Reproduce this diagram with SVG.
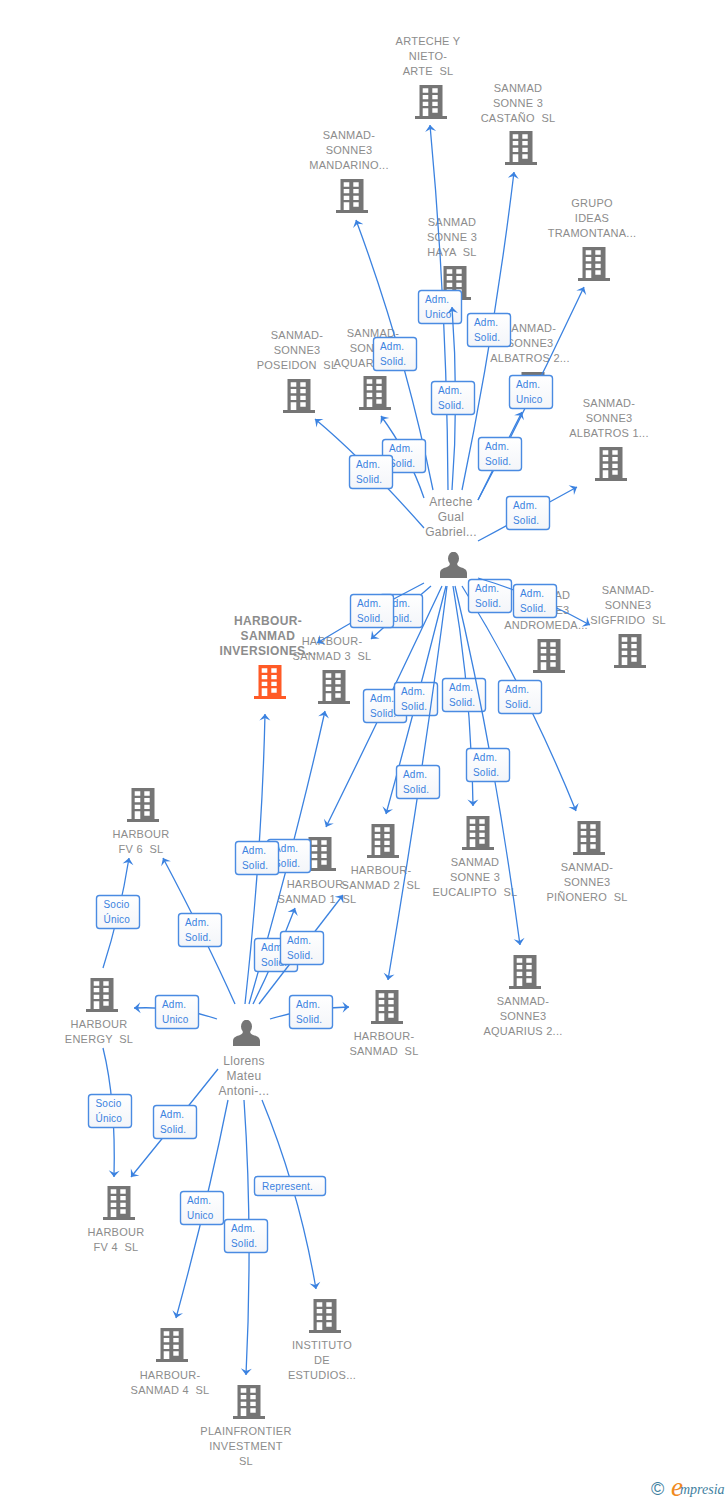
<svg xmlns="http://www.w3.org/2000/svg" width="728" height="1500" viewBox="0 0 728 1500">
<style>
text{font-family:"Liberation Sans",Arial,sans-serif;white-space:pre}
.l{font-size:11px;fill:#8c8c8c;text-anchor:middle;letter-spacing:.25px}
.p{font-size:12px;fill:#8c8c8c;text-anchor:middle;letter-spacing:.3px}
.o{font-size:12px;font-weight:bold;fill:#8c8c8c;text-anchor:middle;letter-spacing:.35px}
.c{fill:none;stroke:#3b82e0;stroke-width:1.3;marker-end:url(#a)}
.r{fill:url(#g);stroke:#4a8be2;stroke-width:1.4}
.t{font-size:10px;fill:#3b82e0;letter-spacing:.2px}
</style>
<defs>
<linearGradient id="g" x1="0" y1="0" x2="0" y2="1"><stop offset="0" stop-color="#fff"/><stop offset="1" stop-color="#f3f5f9"/></linearGradient>
<marker id="a" markerUnits="userSpaceOnUse" markerWidth="14" markerHeight="14" refX="10" refY="6" orient="auto"><path d="M10,6 L3.500,.5 L6,6 L3.500,11.500Z" fill="#3b82e0"/></marker>
<symbol id="b" width="33" height="35" viewBox="0 0 33 35"><path fill-rule="evenodd" d="M4.5,0H27.5V31H32V34H0V31H4.5ZM7.7,3.3V7.7H13.3V3.3ZM17.3,3.3V7.7H22.7V3.3ZM7.7,10V14.3H13.3V10ZM17.3,10V14.3H22.7V10ZM7.7,16.7V21H13.3V16.7ZM17.3,16.7V21H22.7V16.7ZM7.7,23.3V31H13.3V23.3ZM17.3,23.3V27.7H22.7V23.3Z"/></symbol>
<symbol id="u" width="27" height="27" viewBox="0 0 27 27"><ellipse cx="13.5" cy="6.5" rx="5.5" ry="6.8"/><path d="M0,26V21C0,17 4,16 7,15C9,14 10,13 10,11H17C17,13 18,14 20,15C23,16 27,17 27,21V26Z"/></symbol>
</defs>
<g id="nodes">
<g id="arteche-nieto" fill="#757575"><use href="#b" x="415" y="85"/><text class="l"><tspan x="428" y="45">ARTECHE Y</tspan><tspan x="428" y="60">NIETO-</tspan><tspan x="428" y="75">ARTE  SL</tspan></text></g>
<g id="castano" fill="#757575"><use href="#b" x="505" y="131"/><text class="l"><tspan x="518" y="92">SANMAD</tspan><tspan x="518" y="107">SONNE 3</tspan><tspan x="518" y="122">CASTAÑO  SL</tspan></text></g>
<g id="mandarino" fill="#757575"><use href="#b" x="336" y="179"/><text class="l"><tspan x="349" y="139">SANMAD-</tspan><tspan x="349" y="154">SONNE3</tspan><tspan x="349" y="169">MANDARINO...</tspan></text></g>
<g id="haya" fill="#757575"><use href="#b" x="439" y="266"/><text class="l"><tspan x="452" y="226">SANMAD</tspan><tspan x="452" y="241">SONNE 3</tspan><tspan x="452" y="256">HAYA  SL</tspan></text></g>
<g id="tramontana" fill="#757575"><use href="#b" x="578" y="247"/><text class="l"><tspan x="592" y="207">GRUPO</tspan><tspan x="592" y="222">IDEAS</tspan><tspan x="592" y="237">TRAMONTANA...</tspan></text></g>
<g id="poseidon" fill="#757575"><use href="#b" x="283" y="379"/><text class="l"><tspan x="297" y="339">SANMAD-</tspan><tspan x="297" y="354">SONNE3</tspan><tspan x="297" y="369">POSEIDON  SL</tspan></text></g>
<g id="aquarius1" fill="#757575"><use href="#b" x="359" y="376"/><text class="l"><tspan x="373" y="337">SANMAD-</tspan><tspan x="373" y="352">SONNE3</tspan><tspan x="373" y="367">AQUARIUS 1...</tspan></text></g>
<g id="albatros2" fill="#757575"><use href="#b" x="517" y="372"/><text class="l"><tspan x="530" y="332">SANMAD-</tspan><tspan x="530" y="347">SONNE3</tspan><tspan x="530" y="362">ALBATROS 2...</tspan></text></g>
<g id="albatros1" fill="#757575"><use href="#b" x="595" y="447"/><text class="l"><tspan x="609" y="407">SANMAD-</tspan><tspan x="609" y="422">SONNE3</tspan><tspan x="609" y="437">ALBATROS 1...</tspan></text></g>
<g id="arteche-gual" fill="#757575"><use href="#u" x="440" y="552"/><text class="p"><tspan x="451" y="506">Arteche</tspan><tspan x="451" y="521">Gual</tspan><tspan x="451" y="536">Gabriel...</tspan></text></g>
<g id="andromeda" fill="#757575"><use href="#b" x="533" y="639"/><text class="l"><tspan x="546" y="599">SANMAD</tspan><tspan x="546" y="614">SONNE3</tspan><tspan x="546" y="629">ANDROMEDA...</tspan></text></g>
<g id="sigfrido" fill="#757575"><use href="#b" x="614" y="634"/><text class="l"><tspan x="628" y="594">SANMAD-</tspan><tspan x="628" y="609">SONNE3</tspan><tspan x="628" y="624">SIGFRIDO  SL</tspan></text></g>
<g id="inversiones" fill="#ff5a26"><use href="#b" x="254" y="665"/><text class="o"><tspan x="268" y="625">HARBOUR-</tspan><tspan x="268" y="640">SANMAD</tspan><tspan x="268" y="655">INVERSIONES...</tspan></text></g>
<g id="sanmad3" fill="#757575"><use href="#b" x="318" y="670"/><text class="l"><tspan x="332" y="645">HARBOUR-</tspan><tspan x="332" y="660">SANMAD 3  SL</tspan></text></g>
<g id="sanmad1" fill="#757575"><use href="#b" x="304" y="837"/><text class="l"><tspan x="317" y="888">HARBOUR-</tspan><tspan x="317" y="903">SANMAD 1  SL</tspan></text></g>
<g id="sanmad2" fill="#757575"><use href="#b" x="367" y="824"/><text class="l"><tspan x="381" y="874">HARBOUR-</tspan><tspan x="381" y="889">SANMAD 2  SL</tspan></text></g>
<g id="eucalipto" fill="#757575"><use href="#b" x="462" y="816"/><text class="l"><tspan x="475" y="866">SANMAD</tspan><tspan x="475" y="881">SONNE 3</tspan><tspan x="475" y="896">EUCALIPTO  SL</tspan></text></g>
<g id="pinonero" fill="#757575"><use href="#b" x="573" y="821"/><text class="l"><tspan x="587" y="871">SANMAD-</tspan><tspan x="587" y="886">SONNE3</tspan><tspan x="587" y="901">PIÑONERO  SL</tspan></text></g>
<g id="aquarius2" fill="#757575"><use href="#b" x="509" y="955"/><text class="l"><tspan x="523" y="1005">SANMAD-</tspan><tspan x="523" y="1020">SONNE3</tspan><tspan x="523" y="1035">AQUARIUS 2...</tspan></text></g>
<g id="harbour-sanmad" fill="#757575"><use href="#b" x="371" y="990"/><text class="l"><tspan x="384" y="1040">HARBOUR-</tspan><tspan x="384" y="1055">SANMAD  SL</tspan></text></g>
<g id="fv6" fill="#757575"><use href="#b" x="127" y="788"/><text class="l"><tspan x="141" y="838">HARBOUR</tspan><tspan x="141" y="853">FV 6  SL</tspan></text></g>
<g id="energy" fill="#757575"><use href="#b" x="86" y="978"/><text class="l"><tspan x="99" y="1028">HARBOUR</tspan><tspan x="99" y="1043">ENERGY  SL</tspan></text></g>
<g id="llorens" fill="#757575"><use href="#u" x="233" y="1020"/><text class="p"><tspan x="244" y="1065">Llorens</tspan><tspan x="244" y="1080">Mateu</tspan><tspan x="244" y="1095">Antoni-...</tspan></text></g>
<g id="fv4" fill="#757575"><use href="#b" x="103" y="1186"/><text class="l"><tspan x="116" y="1236">HARBOUR</tspan><tspan x="116" y="1251">FV 4  SL</tspan></text></g>
<g id="sanmad4" fill="#757575"><use href="#b" x="156" y="1328"/><text class="l"><tspan x="170" y="1379">HARBOUR-</tspan><tspan x="170" y="1394">SANMAD 4  SL</tspan></text></g>
<g id="plainfrontier" fill="#757575"><use href="#b" x="233" y="1385"/><text class="l"><tspan x="246" y="1435">PLAINFRONTIER</tspan><tspan x="246" y="1450">INVESTMENT</tspan><tspan x="246" y="1465">SL</tspan></text></g>
<g id="instituto" fill="#757575"><use href="#b" x="309" y="1299"/><text class="l"><tspan x="322" y="1349">INSTITUTO</tspan><tspan x="322" y="1364">DE</tspan><tspan x="322" y="1379">ESTUDIOS...</tspan></text></g>
</g>
<g id="connectors">
<path class="c" d="M448,490Q447,307 430,125"/>
<g><rect class="r" x="418.500" y="290.500" width="43" height="33" rx="3"/><text class="t"><tspan x="425" y="303">Adm.</tspan><tspan x="425" y="318">Unico</tspan></text></g>
<path class="c" d="M452,490Q459,400 452,307"/>
<g><rect class="r" x="431.500" y="381.500" width="43" height="33" rx="3"/><text class="t"><tspan x="438" y="394">Adm.</tspan><tspan x="438" y="409">Solid.</tspan></text></g>
<path class="c" d="M462,490Q495,331 514,172"/>
<g><rect class="r" x="467.500" y="313.500" width="43" height="33" rx="3"/><text class="t"><tspan x="474" y="326">Adm.</tspan><tspan x="474" y="341">Solid.</tspan></text></g>
<path class="c" d="M433,490Q405,352 356,220"/>
<g><rect class="r" x="373.500" y="337.500" width="43" height="33" rx="3"/><text class="t"><tspan x="380" y="350">Adm.</tspan><tspan x="380" y="365">Solid.</tspan></text></g>
<path class="c" d="M478,500Q534,394 584,287"/>
<g><rect class="r" x="509.500" y="375.500" width="43" height="33" rx="3"/><text class="t"><tspan x="516" y="388">Adm.</tspan><tspan x="516" y="403">Unico</tspan></text></g>
<path class="c" d="M478,500Q499,457 522,412"/>
<g><rect class="r" x="478.500" y="437.500" width="43" height="33" rx="3"/><text class="t"><tspan x="485" y="450">Adm.</tspan><tspan x="485" y="465">Solid.</tspan></text></g>
<path class="c" d="M478,541Q528,514 577,487"/>
<g><rect class="r" x="506.500" y="496.500" width="43" height="33" rx="3"/><text class="t"><tspan x="513" y="509">Adm.</tspan><tspan x="513" y="524">Solid.</tspan></text></g>
<path class="c" d="M424,498Q409,454 381,416"/>
<g><rect class="r" x="382.500" y="439.500" width="43" height="33" rx="3"/><text class="t"><tspan x="389" y="452">Adm.</tspan><tspan x="389" y="467">Solid.</tspan></text></g>
<path class="c" d="M424,528Q364,460 315,419"/>
<g><rect class="r" x="349.500" y="455.500" width="43" height="33" rx="3"/><text class="t"><tspan x="356" y="468">Adm.</tspan><tspan x="356" y="483">Solid.</tspan></text></g>
<path class="c" d="M462,586Q527,690 576,811"/>
<g><rect class="r" x="468.500" y="579.500" width="43" height="33" rx="3"/><text class="t"><tspan x="475" y="592">Adm.</tspan><tspan x="475" y="607">Solid.</tspan></text></g>
<path class="c" d="M478,578Q538,596 590,625"/>
<g><rect class="r" x="513.500" y="584.500" width="43" height="33" rx="3"/><text class="t"><tspan x="520" y="597">Adm.</tspan><tspan x="520" y="612">Solid.</tspan></text></g>
<path class="c" d="M431,586Q400,612 371,639"/>
<g><rect class="r" x="379.500" y="594.500" width="43" height="33" rx="3"/><text class="t"><tspan x="386" y="607">Adm.</tspan><tspan x="386" y="622">Solid.</tspan></text></g>
<path class="c" d="M424,583Q368,612 317,643"/>
<g><rect class="r" x="350.500" y="594.500" width="43" height="33" rx="3"/><text class="t"><tspan x="357" y="607">Adm.</tspan><tspan x="357" y="622">Solid.</tspan></text></g>
<path class="c" d="M442,586Q387,703 326,827"/>
<g><rect class="r" x="363.500" y="689.500" width="43" height="33" rx="3"/><text class="t"><tspan x="370" y="702">Adm.</tspan><tspan x="370" y="717">Solid.</tspan></text></g>
<path class="c" d="M446,586Q418,698 386,814"/>
<g><rect class="r" x="394.500" y="682.500" width="43" height="33" rx="3"/><text class="t"><tspan x="401" y="695">Adm.</tspan><tspan x="401" y="710">Solid.</tspan></text></g>
<path class="c" d="M453,586Q471,690 473,806"/>
<g><rect class="r" x="442.500" y="678.500" width="43" height="33" rx="3"/><text class="t"><tspan x="449" y="691">Adm.</tspan><tspan x="449" y="706">Solid.</tspan></text></g>
<g><rect class="r" x="498.500" y="680.500" width="43" height="33" rx="3"/><text class="t"><tspan x="505" y="693">Adm.</tspan><tspan x="505" y="708">Solid.</tspan></text></g>
<path class="c" d="M455,586Q494,750 520,945"/>
<g><rect class="r" x="466.500" y="748.500" width="43" height="33" rx="3"/><text class="t"><tspan x="473" y="761">Adm.</tspan><tspan x="473" y="776">Solid.</tspan></text></g>
<path class="c" d="M447,586Q425,760 388,980"/>
<g><rect class="r" x="396.500" y="765.500" width="43" height="33" rx="3"/><text class="t"><tspan x="403" y="778">Adm.</tspan><tspan x="403" y="793">Solid.</tspan></text></g>
<path class="c" d="M249,1004Q295,845 325,711"/>
<g><rect class="r" x="267.500" y="839.500" width="43" height="33" rx="3"/><text class="t"><tspan x="274" y="852">Adm.</tspan><tspan x="274" y="867">Solid.</tspan></text></g>
<path class="c" d="M245,1004Q262,850 265,714"/>
<g><rect class="r" x="235.500" y="841.500" width="43" height="33" rx="3"/><text class="t"><tspan x="242" y="854">Adm.</tspan><tspan x="242" y="869">Solid.</tspan></text></g>
<path class="c" d="M253,1004Q275,960 295,908"/>
<g><rect class="r" x="254.500" y="938.500" width="43" height="33" rx="3"/><text class="t"><tspan x="261" y="951">Adm.</tspan><tspan x="261" y="966">Solid.</tspan></text></g>
<path class="c" d="M259,1004Q303,947 343,895"/>
<g><rect class="r" x="280.500" y="931.500" width="43" height="33" rx="3"/><text class="t"><tspan x="287" y="944">Adm.</tspan><tspan x="287" y="959">Solid.</tspan></text></g>
<path class="c" d="M235,1004Q207,941 163,858"/>
<g><rect class="r" x="178.500" y="913.500" width="43" height="33" rx="3"/><text class="t"><tspan x="185" y="926">Adm.</tspan><tspan x="185" y="941">Solid.</tspan></text></g>
<path class="c" d="M217,1019Q180,1006 134,1008"/>
<g><rect class="r" x="155.500" y="995.500" width="43" height="33" rx="3"/><text class="t"><tspan x="162" y="1008">Adm.</tspan><tspan x="162" y="1023">Unico</tspan></text></g>
<path class="c" d="M270,1019Q305,1008 349,1007"/>
<g><rect class="r" x="289.500" y="995.500" width="43" height="33" rx="3"/><text class="t"><tspan x="296" y="1008">Adm.</tspan><tspan x="296" y="1023">Solid.</tspan></text></g>
<path class="c" d="M103,968Q120,915 129,858"/>
<g><rect class="r" x="96.500" y="895.500" width="43" height="33" rx="3"/><text class="t"><tspan x="103.500" y="908">Socio</tspan><tspan x="103.500" y="923">Único</tspan></text></g>
<path class="c" d="M103,1048Q116,1100 114,1177"/>
<g><rect class="r" x="88.500" y="1094.500" width="43" height="33" rx="3"/><text class="t"><tspan x="95.500" y="1107">Socio</tspan><tspan x="95.500" y="1122">Único</tspan></text></g>
<path class="c" d="M218,1069Q175,1123 131,1177"/>
<g><rect class="r" x="153.500" y="1105.500" width="43" height="33" rx="3"/><text class="t"><tspan x="160" y="1118">Adm.</tspan><tspan x="160" y="1133">Solid.</tspan></text></g>
<path class="c" d="M228,1100Q207,1205 176,1318"/>
<g><rect class="r" x="180.500" y="1191.500" width="43" height="33" rx="3"/><text class="t"><tspan x="187" y="1204">Adm.</tspan><tspan x="187" y="1219">Unico</tspan></text></g>
<path class="c" d="M244,1100Q253,1230 246,1375"/>
<g><rect class="r" x="224.500" y="1219.500" width="43" height="33" rx="3"/><text class="t"><tspan x="231" y="1232">Adm.</tspan><tspan x="231" y="1247">Solid.</tspan></text></g>
<path class="c" d="M262,1100Q299,1190 316,1289"/>
<g><rect class="r" x="254.500" y="1176.500" width="71" height="19" rx="3"/><text class="t" x="262" y="1190">Represent.</text></g>
</g>
<g id="logo">
<text x="651" y="1495" style="font-size:18px;fill:#3f7f9f">©</text>
<text x="671" y="1496" style="font-family:'Liberation Serif',serif;font-size:27px;font-style:italic;fill:#f08a1e">e</text>
<text x="680" y="1494" style="font-family:'Liberation Serif',serif;font-size:14px;font-style:italic;fill:#3f7f9f">mpresia</text>
</g>
</svg>
